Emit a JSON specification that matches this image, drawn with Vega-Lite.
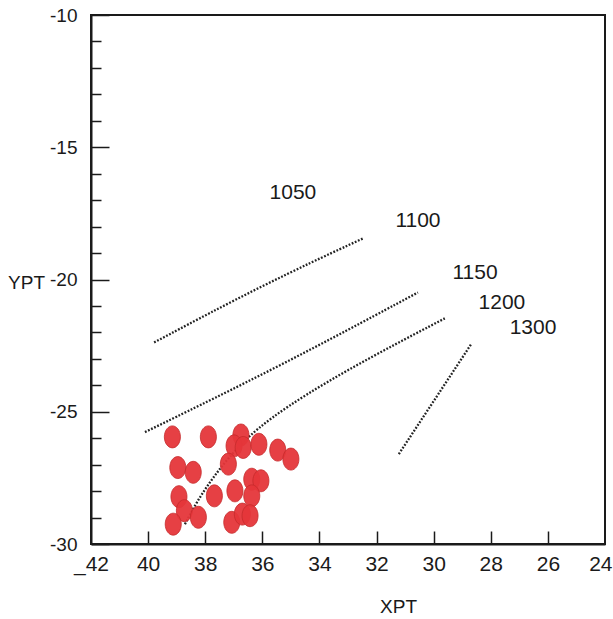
{
  "$schema": "https://vega.github.io/schema/vega-lite/v6.json",
  "width": 514,
  "height": 529,
  "autosize": "none",
  "padding": {"left": 91, "top": 15, "right": 8, "bottom": 75},
  "background": "white",
  "config": {
    "view": {"stroke": "#1a1a1a", "strokeWidth": 2},
    "font": "Liberation Sans"
  },
  "datasets": {
    "curves": [
      {"curve": "1050", "ord": 1, "x": 39.79, "y": -22.38},
      {"curve": "1050", "ord": 2, "x": 35.98, "y": -20.2},
      {"curve": "1050", "ord": 3, "x": 32.48, "y": -18.45},
      {"curve": "1100", "ord": 1, "x": 40.11, "y": -25.77},
      {"curve": "1100", "ord": 2, "x": 35.38, "y": -23.28},
      {"curve": "1100", "ord": 3, "x": 30.55, "y": -20.49},
      {"curve": "1150", "ord": 1, "x": 38.71, "y": -29.25},
      {"curve": "1150", "ord": 2, "x": 38.2, "y": -28.2},
      {"curve": "1150", "ord": 3, "x": 37.2, "y": -26.7},
      {"curve": "1150", "ord": 4, "x": 35.9, "y": -25.3},
      {"curve": "1150", "ord": 5, "x": 33.04, "y": -23.4},
      {"curve": "1150", "ord": 6, "x": 29.61, "y": -21.47},
      {"curve": "1300", "ord": 1, "x": 31.22, "y": -26.6},
      {"curve": "1300", "ord": 2, "x": 28.69, "y": -22.45}
    ],
    "labels": [
      {"text": "1050", "x": 34.93, "y": -16.72},
      {"text": "1100", "x": 30.55, "y": -17.77},
      {"text": "1150", "x": 28.55, "y": -19.77},
      {"text": "1200", "x": 27.61, "y": -20.87},
      {"text": "1300", "x": 26.52, "y": -21.85}
    ],
    "points": [
      {"x": 39.15, "y": -25.95},
      {"x": 37.89, "y": -25.95},
      {"x": 36.75, "y": -25.88},
      {"x": 36.99, "y": -26.29},
      {"x": 36.67, "y": -26.35},
      {"x": 36.12, "y": -26.23},
      {"x": 35.46, "y": -26.45},
      {"x": 35.0, "y": -26.79},
      {"x": 38.96, "y": -27.11},
      {"x": 38.42, "y": -27.29},
      {"x": 37.19, "y": -26.98},
      {"x": 36.37, "y": -27.55},
      {"x": 36.05, "y": -27.61},
      {"x": 36.96, "y": -27.99},
      {"x": 38.92, "y": -28.21},
      {"x": 37.68, "y": -28.18},
      {"x": 36.37, "y": -28.18},
      {"x": 38.73, "y": -28.74},
      {"x": 38.24, "y": -28.99},
      {"x": 39.12, "y": -29.25},
      {"x": 37.07, "y": -29.18},
      {"x": 36.7, "y": -28.87},
      {"x": 36.43, "y": -28.93}
    ]
  },
  "encoding": {
    "x": {
      "field": "x", "type": "quantitative",
      "scale": {"domain": [24, 42], "reverse": true, "nice": false, "zero": false},
      "axis": {
        "title": "XPT",
        "values": [42, 40, 38, 36, 34, 32, 30, 28, 26, 24],
        "labelExpr": "datum.value == 42 ? '_42' : datum.label",
        "labelFlush": false,
        "labelAlign": {"condition": {"test": "datum.value == 24", "value": "right"}, "value": "center"},
        "labelOffset": {"condition": {"test": "datum.value == 24", "value": 7}, "value": 0},
        "grid": false,
        "domainColor": "#1a1a1a", "domainWidth": 2,
        "tickColor": "#1a1a1a", "tickWidth": 1.5,
        "tickSize": -13,
        "tickOpacity": {"condition": {"test": "datum.value == 42 || datum.value == 24", "value": 0}, "value": 1},
        "labelPadding": 22,
        "labelFontSize": 21, "labelColor": "#1a1a1a", "labelFont": "Liberation Sans",
        "titleFontSize": 19, "titleFontWeight": "normal", "titleColor": "#1a1a1a", "titleFont": "Liberation Sans",
        "titleX": 307, "titleY": 68, "titleAnchor": null, "titleAlign": "center", "titleBaseline": "alphabetic"
      }
    },
    "y": {
      "field": "y", "type": "quantitative",
      "scale": {"domain": [-30, -10], "nice": false, "zero": false},
      "axis": {
        "title": "YPT",
        "values": [-30, -29, -28, -27, -26, -25, -24, -23, -22, -21, -20, -19, -18, -17, -16, -15, -14, -13, -12, -11, -10],
        "labelExpr": "datum.value % 5 == 0 ? '' + datum.value : ''",
        "labelFlush": false,
        "grid": false,
        "domainColor": "#1a1a1a", "domainWidth": 2,
        "tickColor": "#1a1a1a", "tickWidth": 1.5,
        "tickSize": {"condition": {"test": "datum.value % 5 == 0", "value": -18}, "value": -10},
        "labelPadding": 32,
        "labelFontSize": 19, "labelColor": "#1a1a1a", "labelFont": "Liberation Sans",
        "titleFontSize": 19, "titleFontWeight": "normal", "titleColor": "#1a1a1a", "titleFont": "Liberation Sans",
        "titleAngle": 0, "titleX": -65, "titleY": 267, "titleAnchor": null, "titleAlign": "center", "titleBaseline": "middle"
      }
    }
  },
  "layer": [
    {
      "data": {"name": "curves"},
      "mark": {"type": "line", "color": "#222", "strokeWidth": 2.3, "strokeDash": [1.8, 1.6], "interpolate": "basis"},
      "encoding": {
        "detail": {"field": "curve"},
        "order": {"field": "ord", "type": "quantitative"}
      }
    },
    {
      "data": {"name": "points"},
      "mark": {
        "type": "point",
        "shape": "M -0.73 0 A 0.73 1 0 1 0 0.73 0 A 0.73 1 0 1 0 -0.73 0 Z",
        "size": 484,
        "filled": true,
        "fill": "#e5363a",
        "fillOpacity": 0.95,
        "stroke": "#c52a2c",
        "strokeWidth": 1,
        "strokeOpacity": 0.8
      }
    },
    {
      "data": {"name": "labels"},
      "mark": {"type": "text", "fontSize": 21, "font": "Liberation Sans", "color": "#1a1a1a", "align": "center", "baseline": "middle"},
      "encoding": {"text": {"field": "text"}}
    }
  ]
}
